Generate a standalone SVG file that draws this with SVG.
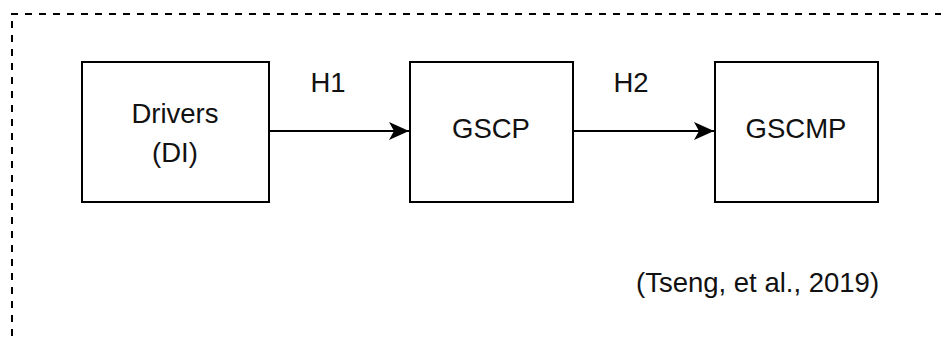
<svg xmlns="http://www.w3.org/2000/svg" width="941" height="340" viewBox="0 0 941 340">
  <style>
    .box { fill: #ffffff; stroke: #000000; stroke-width: 2; }
    .edge { fill: none; stroke: #000000; stroke-width: 2; }
    .frame { fill: none; stroke: #000000; stroke-width: 2; stroke-dasharray: 7 7; }
    text { font-family: "Liberation Sans", Arial, sans-serif; font-size: 27.5px; fill: #111111; }
    .c { text-anchor: middle; }
  </style>
  <defs>
    <marker id="arrow" markerUnits="userSpaceOnUse" markerWidth="22" markerHeight="20" refX="20" refY="9" orient="auto">
      <path d="M0,0 L20,9 L0,18 L5,9 Z" fill="#000000"/>
    </marker>
  </defs>

  <!-- dashed enclosing frame (continues past the right and bottom edges) -->
  <g id="frame">
    <path class="frame" d="M11,14 H945"/>
    <path class="frame" d="M12,14 V345" stroke-dashoffset="7"/>
  </g>

  <g id="connectors">
    <path class="edge" d="M269,131 H409" marker-end="url(#arrow)"/>
    <path class="edge" d="M573,131 H714" marker-end="url(#arrow)"/>
    <text class="c" x="328" y="92">H1</text>
    <text class="c" x="631" y="92">H2</text>
  </g>

  <g id="drivers">
    <rect class="box" x="82" y="62" width="187" height="140"/>
    <text class="c" x="175" y="123">Drivers</text>
    <text class="c" x="175" y="162">(DI)</text>
  </g>

  <g id="gscp">
    <rect class="box" x="410" y="62" width="163" height="140"/>
    <text class="c" x="491" y="138">GSCP</text>
  </g>

  <g id="gscmp">
    <rect class="box" x="715" y="62" width="163" height="140"/>
    <text class="c" x="796" y="138">GSCMP</text>
  </g>

  <g id="citation">
    <text x="636" y="292">(Tseng, et al., 2019)</text>
  </g>
</svg>
